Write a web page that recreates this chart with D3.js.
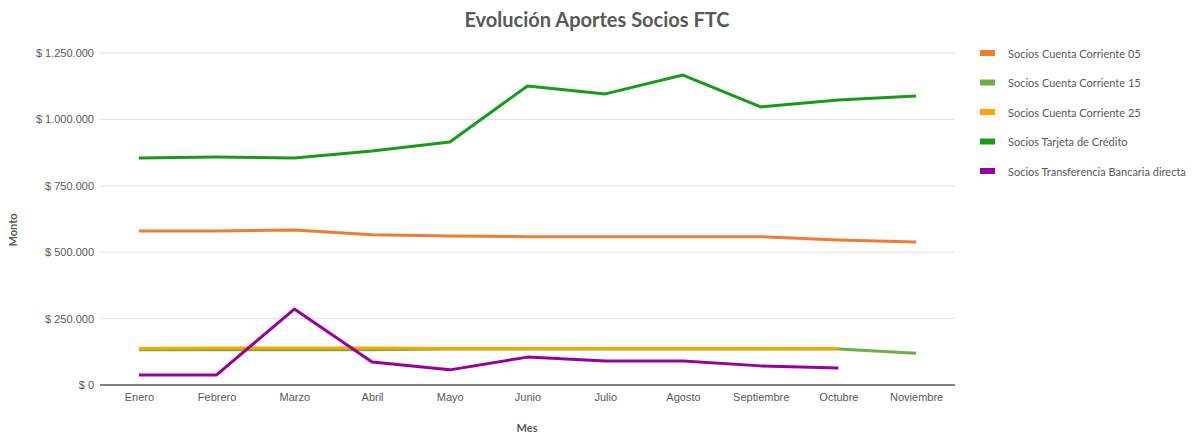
<!DOCTYPE html>
<html>
<head>
<meta charset="utf-8">
<script src="https://cdn.jsdelivr.net/npm/d3@7"></script>
<style>
  body { margin: 0; background: #fff; }
  svg { font-family: Lato, "Open Sans", sans-serif; }
  .grid line { stroke: #e0e0e0; }
  .tick text { fill: #595959; font-size: 11px; }
</style>
</head>
<body>
<svg></svg>
<script>
const WIDTH = 1197
const HEIGHT = 433

const months = ['Enero','Febrero','Marzo','Abril','Mayo','Junio','Julio','Agosto','Septiembre','Octubre','Noviembre']
const yTicks = [0,250000,500000,750000,1000000,1250000]

const cc05 = [580000,580000,584000,566000,561000,558000,558000,558000,558000,546000,538000]
const cc15 = [133000,133000,133000,133000,136000,136000,136000,136000,136000,136000,120000]
const cc25 = [137000,139000,139000,139000,137000,137000,137000,137000,137000,137000,null]
const tarjeta = [855000,858000,855000,881000,915000,1126000,1096000,1167000,1047000,1073000,1088000]
const transferencia = [38000,38000,286000,87000,57000,105000,90000,90000,72000,64000,null]

const seriesNames = ['Socios Cuenta Corriente 05','Socios Cuenta Corriente 15','Socios Cuenta Corriente 25','Socios Tarjeta de Crédito','Socios Transferencia Bancaria directa']
const seriesColors = ['#ed7d31','#70ad47','#ffa500','#1a9a1a','#990099']
const seriesValues = [cc05,cc15,cc25,tarjeta,transferencia]
// drawing order: CC15 below CC25 so the orange sits on top
const drawOrder = [0,1,2,4,3]

const margin = {left:100, right:242, top:53, bottom:48}

const svg = d3.select('svg')
  .attr('width',WIDTH)
  .attr('height',HEIGHT)

const x = d3.scalePoint()
  .domain(months)
  .range([margin.left, WIDTH-margin.right])
  .padding(0.5)

const y = d3.scaleLinear()
  .domain([0,1250000])
  .range([HEIGHT-margin.bottom, margin.top])

const fmt = d => '$ ' + d3.format(',')(d).replace(/,/g,'.')

// gridlines
svg.append('g')
  .attr('class','grid')
  .selectAll('line')
  .data(yTicks.filter(d => d > 0))
  .enter().append('line')
  .attr('x1',margin.left)
  .attr('x2',WIDTH-margin.right)
  .attr('y1',d => y(d))
  .attr('y2',d => y(d))

// y axis
const yAxis = svg.append('g')
  .attr('transform',`translate(${margin.left},0)`)
  .call(d3.axisLeft(y).tickValues(yTicks).tickFormat(fmt).tickSize(0).tickPadding(6))
yAxis.select('.domain').remove()

// x axis
const xAxis = svg.append('g')
  .attr('transform',`translate(0,${y(0)})`)
  .call(d3.axisBottom(x).tickSize(0).tickPadding(8))
xAxis.select('.domain')
  .attr('d',`M${margin.left},0H${WIDTH-margin.right}`)
  .attr('stroke','#595959')
  .attr('stroke-width',1.3)

// lines
const line = d3.line()
  .defined(d => d != null)
  .x((d,i) => x(months[i]))
  .y(d => y(d))

svg.append('g')
  .selectAll('path')
  .data(drawOrder)
  .enter().append('path')
  .attr('fill','none')
  .attr('stroke',i => seriesColors[i])
  .attr('stroke-width',3)
  .attr('stroke-linejoin','round')
  .attr('d',i => line(seriesValues[i]))

// title
svg.append('text')
  .attr('x',597)
  .attr('y',27)
  .attr('text-anchor','middle')
  .attr('fill','#595959')
  .attr('font-size',20)
  .attr('font-weight','bold')
  .text('Evolución Aportes Socios FTC')

// axis titles
svg.append('text')
  .attr('transform','translate(17,230) rotate(-90)')
  .attr('text-anchor','middle')
  .attr('fill','#595959')
  .attr('font-size',11)
  .attr('font-weight','bold')
  .text('Monto')

svg.append('text')
  .attr('x',527)
  .attr('y',432)
  .attr('text-anchor','middle')
  .attr('fill','#595959')
  .attr('font-size',11)
  .attr('font-weight','bold')
  .text('Mes')

// legend
const legend = svg.append('g')
  .selectAll('g')
  .data(seriesNames)
  .enter().append('g')
  .attr('transform',(d,i) => `translate(980,${53 + i*29.5})`)

legend.append('rect')
  .attr('x',0)
  .attr('y',-3)
  .attr('width',15)
  .attr('height',6)
  .attr('fill',(d,i) => seriesColors[i])

legend.append('text')
  .attr('x',28)
  .attr('y',0)
  .attr('dominant-baseline','central')
  .attr('fill','#595959')
  .attr('font-size',11)
  .text(d => d)
</script>
</body>
</html>
